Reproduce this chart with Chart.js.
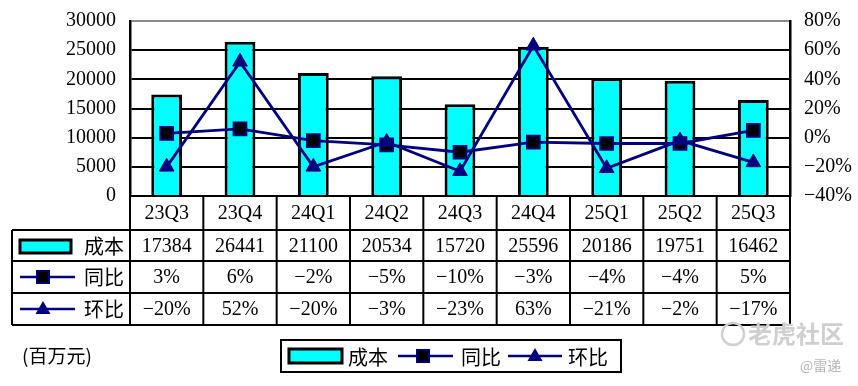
<!DOCTYPE html>
<html>
<head>
<meta charset="utf-8">
<script src="https://cdn.jsdelivr.net/npm/chart.js@4.4.0/dist/chart.umd.min.js"></script>
<style>
  body { margin: 0; background: #fff; }
  canvas { display: block; }
</style>
</head>
<body>
<canvas id="myChart" width="858" height="386"></canvas>
<script>
const categories = ['23Q3', '23Q4', '24Q1', '24Q2', '24Q3', '24Q4', '25Q1', '25Q2', '25Q3'];
const costValues = [17384, 26441, 21100, 20534, 15720, 25596, 20186, 19751, 16462];
const yoyValues = [3, 6, -2, -5, -10, -3, -4, -4, 5];   // 同比 %
const qoqValues = [-20, 52, -20, -3, -23, 63, -21, -2, -17]; // 环比 %
const seriesNames = ['成本', '同比', '环比'];

const FONT = "'Liberation Serif', 'Noto Sans CJK SC', serif";
const CJK = "'Noto Sans CJK SC', sans-serif";
const NAVY = '#000080';
const CYAN = '#00FFFF';

function pct(v) {
    return (v < 0 ? '\u2212' + (-v) : v) + '%';
}

// keys used in the table header and the legend
function barKey(ctx, x, y, w, h) {
    ctx.fillStyle = CYAN;
    ctx.fillRect(x, y, w, h);
    ctx.lineWidth = 3;
    ctx.strokeStyle = '#000';
    ctx.strokeRect(x, y, w, h);
}
function lineKey(ctx, x1, x2, y, mx, shape) {
    ctx.strokeStyle = NAVY;
    ctx.lineWidth = 2.5;
    ctx.beginPath();
    ctx.moveTo(x1, y);
    ctx.lineTo(x2, y);
    ctx.stroke();
    if (shape === 'rect') {
        ctx.fillStyle = '#000';
        ctx.fillRect(mx - 6, y - 6, 12, 12);
        ctx.lineWidth = 2;
        ctx.strokeRect(mx - 6, y - 6, 12, 12);
    } else {
        ctx.fillStyle = NAVY;
        ctx.beginPath();
        ctx.moveTo(mx, y - 8);
        ctx.lineTo(mx + 7.5, y + 5);
        ctx.lineTo(mx - 7.5, y + 5);
        ctx.closePath();
        ctx.fill();
    }
}

// fixed axis box: no extra room for the half labels at the ends
function fixAxis(width) {
    return s => {
        s.width = width;
        s.paddingTop = 0;
        s.paddingBottom = 0;
    };
}

// data table under the plot + legend + notes
const tablePlugin = {
    id: 'dataTable',
    afterDraw(chart) {
        const ctx = chart.ctx;
        const x = chart.scales.x;
        const area = chart.chartArea;
        const n = categories.length;
        const cw = (area.right - area.left) / n;
        const rows = [area.bottom, 230, 261, 293, 325];
        const headLeft = 12;

        ctx.save();
        ctx.strokeStyle = '#000';
        ctx.lineWidth = 2;
        // horizontal lines
        ctx.beginPath();
        ctx.moveTo(area.left, rows[0]);
        ctx.lineTo(area.right, rows[0]);
        for (let i = 1; i < rows.length; i++) {
            ctx.moveTo(headLeft, rows[i]);
            ctx.lineTo(area.right, rows[i]);
        }
        // vertical lines
        for (let k = 0; k <= n; k++) {
            const px = area.left + k * cw;
            ctx.moveTo(px, rows[0]);
            ctx.lineTo(px, rows[4]);
        }
        ctx.moveTo(headLeft, rows[1]);
        ctx.lineTo(headLeft, rows[4]);
        ctx.stroke();

        // cell texts
        ctx.fillStyle = '#000';
        ctx.textAlign = 'center';
        ctx.textBaseline = 'middle';
        ctx.font = '20px ' + FONT;
        const rowTexts = [categories, costValues.map(String), yoyValues.map(pct), qoqValues.map(pct)];
        rowTexts.forEach((texts, r) => {
            const cy = (rows[r] + rows[r + 1]) / 2 + 1;
            texts.forEach((t, i) => {
                ctx.fillText(t, x.getPixelForValue(i), cy);
            });
        });

        // row headers
        ctx.font = '20px ' + CJK;
        ctx.textAlign = 'left';
        barKey(ctx, 20, 240, 51, 13);
        lineKey(ctx, 20, 75, 277, 43, 'rect');
        lineKey(ctx, 20, 75, 309, 43, 'tri');
        ctx.fillStyle = '#000';
        ctx.fillText(seriesNames[0], 84, 246);
        ctx.fillText(seriesNames[1], 84, 277);
        ctx.fillText(seriesNames[2], 84, 309);

        // legend
        ctx.lineWidth = 2;
        ctx.strokeStyle = '#000';
        ctx.strokeRect(281, 340, 340, 32);
        barKey(ctx, 289, 349, 53, 14);
        lineKey(ctx, 398, 453, 356, 423, 'rect');
        lineKey(ctx, 508, 562, 356, 535, 'tri');
        ctx.fillStyle = '#000';
        ctx.fillText(seriesNames[0], 348, 357);
        ctx.fillText(seriesNames[1], 461, 357);
        ctx.fillText(seriesNames[2], 568, 357);

        // unit note
        ctx.font = '19px ' + CJK;
        ctx.fillText('(百万元)', 22, 356);

        // watermark
        ctx.fillStyle = '#cfcfcf';
        ctx.font = 'bold 24px ' + CJK;
        ctx.fillText('老虎社区', 748, 334);
        ctx.strokeStyle = '#cfcfcf';
        ctx.lineWidth = 2.5;
        ctx.beginPath();
        ctx.arc(733, 334, 11, 0, Math.PI * 2);
        ctx.stroke();
        ctx.fillStyle = '#b5b5b5';
        ctx.font = '14px ' + CJK;
        ctx.fillText('@雷递', 800, 366);
        ctx.restore();
    }
};

const config = {
    data: {
        labels: categories,
        datasets: [
            {
                type: 'line',
                label: seriesNames[2],
                data: qoqValues,
                yAxisID: 'y1',
                order: 1,
                borderColor: NAVY,
                borderWidth: 2.8,
                pointStyle: 'triangle',
                pointRadius: 8.5,
                pointBackgroundColor: NAVY,
                pointBorderColor: NAVY,
                pointBorderWidth: 1,
                tension: 0
            },
            {
                type: 'line',
                label: seriesNames[1],
                data: yoyValues,
                yAxisID: 'y1',
                order: 2,
                borderColor: NAVY,
                borderWidth: 2.8,
                pointStyle: 'rect',
                pointRadius: 9,
                pointBackgroundColor: '#000',
                pointBorderColor: NAVY,
                pointBorderWidth: 2,
                tension: 0
            },
            {
                type: 'bar',
                label: seriesNames[0],
                data: costValues,
                yAxisID: 'y',
                order: 3,
                backgroundColor: CYAN,
                borderColor: '#000',
                borderWidth: 3,
                barPercentage: 0.42,
                categoryPercentage: 1
            }
        ]
    },
    options: {
        responsive: false,
        devicePixelRatio: 1,
        animation: false,
        layout: {
            autoPadding: false,
            padding: { top: 21, bottom: 190, left: 0, right: 0 }
        },
        plugins: {
            legend: { display: false },
            tooltip: { enabled: false }
        },
        scales: {
            x: {
                type: 'category',
                display: false,
                offset: true
            },
            y: {
                position: 'left',
                min: 0,
                max: 30000,
                ticks: {
                    stepSize: 5000,
                    padding: 14,
                    color: '#000',
                    font: { family: FONT, size: 20 },
                    callback: v => String(v)
                },
                grid: {
                    drawTicks: false,
                    lineWidth: 2,
                    color: c => (c.tick && c.tick.value === 30000) ? '#8c8c8c' : '#000'
                },
                border: { color: '#000', width: 2.5 },
                afterFit: fixAxis(130)
            },
            y1: {
                position: 'right',
                min: -40,
                max: 80,
                ticks: {
                    stepSize: 20,
                    padding: 14,
                    color: '#000',
                    font: { family: FONT, size: 20 },
                    callback: v => pct(v)
                },
                grid: { display: false, drawTicks: false },
                border: { color: '#000', width: 2.5 },
                afterFit: fixAxis(68)
            }
        }
    },
    plugins: [tablePlugin]
};

new Chart(document.getElementById('myChart').getContext('2d'), config);
</script>
</body>
</html>
